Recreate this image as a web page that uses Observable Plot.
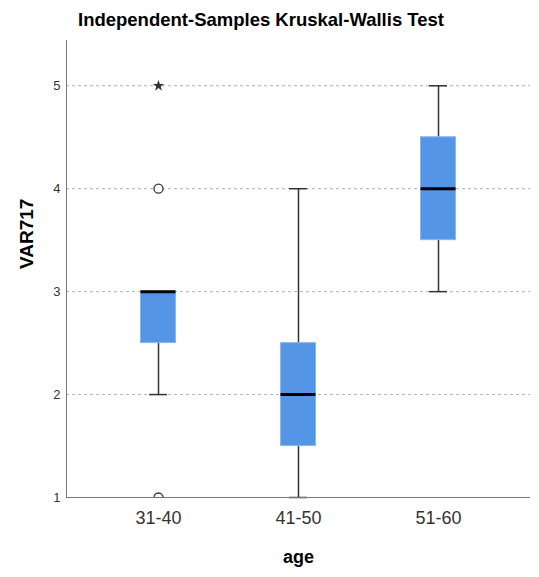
<!DOCTYPE html>
<html>
<head>
<meta charset="utf-8">
<script src="https://cdn.jsdelivr.net/npm/d3@7"></script>
<script src="https://cdn.jsdelivr.net/npm/@observablehq/plot@0.6"></script>
<style>
  body { margin: 0; background: #fff; }
  #wrap { position: relative; width: 539px; height: 577px; font-family: "Liberation Sans", Arial, sans-serif; }
  #title { position: absolute; left: 0; top: 9px; width: 522px; text-align: center; font-size: 18.5px; font-weight: bold; color: #000; }
</style>
</head>
<body>
<div id="wrap"><div id="title">Independent-Samples Kruskal-Wallis Test</div></div>
<script>
const groups = ["31-40", "41-50", "51-60"];
const whiskerLow = [2, 1, 3];
const q1 = [2.5, 1.5, 3.5];
const median = [3, 2, 4];
const q3 = [3, 2.5, 4.5];
const whiskerHigh = [3, 4, 5];
const outlierGroup = ["31-40", "31-40"];
const outlierValue = [4, 1];
const extremeGroup = ["31-40"];
const extremeValue = [5];
const yTicks = [1, 2, 3, 4, 5];
const gridTicks = [2, 3, 4, 5];

const boxes = groups.map((g, i) => ({age: g, lo: whiskerLow[i], q1: q1[i], med: median[i], q3: q3[i], hi: whiskerHigh[i]}));
const outliers = outlierGroup.map((g, i) => ({age: g, v: outlierValue[i]}));
const extremes = extremeGroup.map((g, i) => ({age: g, v: extremeValue[i]}));

const boxInset = 52.5;
const capInset = 61;

const chart = Plot.plot({
  width: 539,
  height: 577,
  marginLeft: 66,
  marginRight: 9,
  marginTop: 40,
  marginBottom: 80,
  style: {fontFamily: "Liberation Sans, Arial, sans-serif", background: "#fff"},
  x: {domain: groups, paddingInner: 0, paddingOuter: 0.157, label: null},
  y: {domain: [1, 5.44], label: null},
  marks: [
    Plot.ruleY(gridTicks, {stroke: "#b0b0b0", strokeDasharray: "3,3", strokeWidth: 1}),
    Plot.axisY({ticks: yTicks, tickSize: 0, tickPadding: 6, fontSize: 13, color: "#333", label: null, tickFormat: d3.format("d")}),
    Plot.axisX({tickSize: 0, tickPadding: 14, fontSize: 18, color: "#333", label: null}),
    Plot.ruleX(boxes, {x: "age", y1: "lo", y2: "q1", stroke: "#333", strokeWidth: 1.5}),
    Plot.ruleX(boxes, {x: "age", y1: "q3", y2: "hi", stroke: "#333", strokeWidth: 1.5}),
    Plot.tickY(boxes, {x: "age", y: "lo", stroke: "#333", strokeWidth: 1.5, insetLeft: capInset, insetRight: capInset}),
    Plot.tickY(boxes.filter(d => d.hi > d.q3), {x: "age", y: "hi", stroke: "#333", strokeWidth: 1.5, insetLeft: capInset, insetRight: capInset}),
    Plot.barY(boxes, {x: "age", y1: "q1", y2: "q3", fill: "#5595e5", stroke: "#8cb6ee", strokeWidth: 1, insetLeft: boxInset, insetRight: boxInset}),
    Plot.tickY(boxes, {x: "age", y: "med", stroke: "#000", strokeWidth: 3, insetLeft: boxInset, insetRight: boxInset}),
    Plot.ruleY([1], {stroke: "#777", strokeWidth: 1}),
    Plot.frame({anchor: "left", stroke: "#777", strokeWidth: 1}),
    Plot.dot(outliers, {x: "age", y: "v", r: 4.5, stroke: "#333", strokeWidth: 1.3, fill: "white", clip: true}),
    Plot.dot(extremes, {x: "age", y: "v", r: 3.6, symbol: "star", fill: "#333", stroke: "none"}),
    Plot.text(["VAR717"], {frameAnchor: "left", dx: -40, rotate: -90, fontSize: 19, fontWeight: "bold", fill: "#000"}),
    Plot.text(["age"], {frameAnchor: "bottom", dy: 65, fontSize: 18, fontWeight: "bold", fill: "#000"})
  ]
});
document.getElementById("wrap").appendChild(chart);
</script>
</body>
</html>
